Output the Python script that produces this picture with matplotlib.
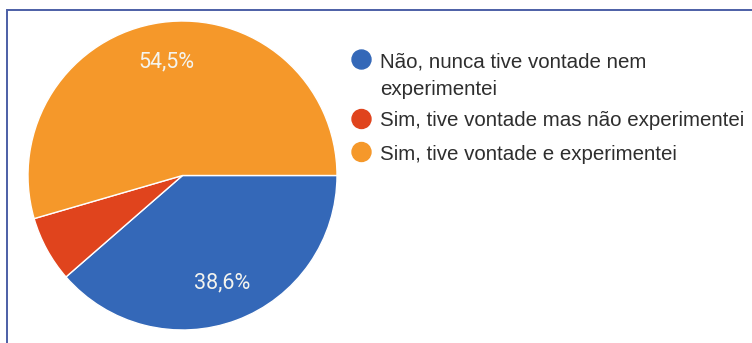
import math
import matplotlib.pyplot as plt
from matplotlib.patches import Circle

plt.rcParams['font.family'] = ['Liberation Sans', 'DejaVu Sans']

categories = [["Não, nunca tive vontade nem", "experimentei"],
              ["Sim, tive vontade mas não experimentei"],
              ["Sim, tive vontade e experimentei"]]
shares = [38.6, 6.9, 54.5]
colors = ["#3468b8", "#e0441d", "#f5982a"]

W, H = 752, 343
fig = plt.figure(figsize=(W / 100, H / 100), dpi=100)

# pie placed by pixel centre / radius
cx, cy, r = 182.5, 175.5, 154.5
ax = fig.add_axes([(cx - r) / W, 1 - (cy + r) / H, 2 * r / W, 2 * r / H])
ax.pie(shares, colors=colors, startangle=0, counterclock=False,
       wedgeprops=dict(edgecolor="white", linewidth=1.0))
ax.set_xlim(-1, 1)
ax.set_ylim(-1, 1)
ax.axis("off")

# percentage labels on the two big slices
ang = 0
for val in shares:
    mid = ang - val * 3.6 / 2
    ang -= val * 3.6
    if val < 10:
        continue
    x = 0.74 * math.cos(math.radians(mid))
    y = 0.74 * math.sin(math.radians(mid))
    ax.text(x, y, f"{val:.1f}%".replace(".", ","), color="#f4f4ee",
            fontsize=15.5, ha="center", va="center", family="Roboto")

# overlay in pixel coords for frame and legend
ov = fig.add_axes([0, 0, 1, 1], facecolor="none")
ov.set_xlim(0, W)
ov.set_ylim(H, 0)
ov.axis("off")
ov.plot([6.5, 6.5, W], [H, 10, 10], color="#4c5fa6", linewidth=1.4,
        solid_joinstyle="miter")

leg_y = [59.5, 119, 152]
for lines, col, y in zip(categories, colors, leg_y):
    ov.add_patch(Circle((361.5, y), 9.5, color=col))
    for i, line in enumerate(lines):
        ov.text(380, y + 7.5 + i * 28, line, color="#2e2e2e", fontsize=14.8,
                ha="left", va="baseline")

fig.savefig("out.png", dpi=100)
